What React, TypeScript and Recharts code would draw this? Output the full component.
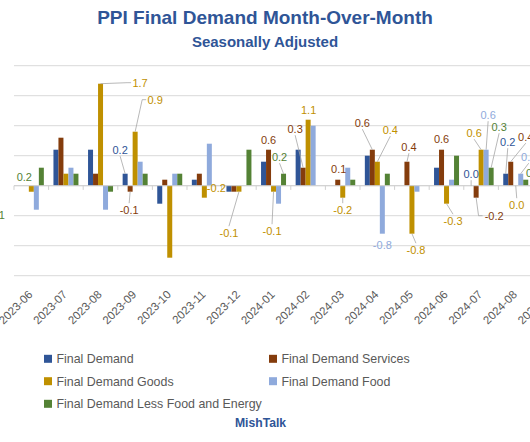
import React from "react";
import { BarChart, Bar, XAxis, YAxis, CartesianGrid, LabelList, ReferenceLine, ReferenceDot } from "recharts";

const months = [
  "2023-06", "2023-07", "2023-08", "2023-09", "2023-10", "2023-11", "2023-12",
  "2024-01", "2024-02", "2024-03", "2024-04", "2024-05", "2024-06", "2024-07", "2024-08", "2024-09",
];
const finalDemand = [0.0, 0.6, 0.6, 0.2, -0.3, 0.1, -0.1, 0.4, 0.6, 0.0, 0.5, 0.0, 0.3, 0.0, 0.2, null];
const services = [0.0, 0.8, 0.2, -0.1, 0.1, 0.2, -0.1, 0.6, 0.3, 0.1, 0.6, 0.4, 0.6, -0.2, 0.4, null];
const goods = [-0.1, 0.2, 1.7, 0.9, -1.2, -0.2, -0.1, -0.1, 1.1, -0.2, 0.4, -0.8, -0.3, 0.6, 0.0, null];
const food = [-0.4, 0.3, -0.4, 0.4, 0.2, 0.7, 0.0, -0.3, 1.0, 0.3, -0.8, -0.1, 0.1, 0.6, 0.2, null];
const core = [0.3, 0.2, -0.1, 0.2, 0.2, 0.0, 0.6, 0.2, 0.0, 0.1, 0.2, 0.0, 0.5, 0.3, 0.1, null];
const yTicks = [-1.5, -1, -0.5, 0, 0.5, 1, 1.5, 2];

const series = [
  { key: "fd", name: "Final Demand", color: "#2F5597", values: finalDemand },
  { key: "svc", name: "Final Demand Services", color: "#843C0C", values: services },
  { key: "goods", name: "Final Demand Goods", color: "#BF9000", values: goods },
  { key: "food", name: "Final Demand Food", color: "#8FAADC", values: food },
  { key: "core", name: "Final Demand Less Food and Energy", color: "#548235", values: core },
];

// which data labels are shown, with their offsets from the bar end (layout only)
const labelSpots: Record<string, Record<string, [number, number]>> = {
  fd: { "2023-09": [-5, -24], "2024-07": [0, -12], "2024-08": [2, -32] },
  svc: {
    "2023-09": [-1, 18], "2024-01": [0, -10], "2024-02": [-8, -39], "2024-03": [1, -11],
    "2024-04": [-10, -27], "2024-05": [2, -15], "2024-06": [0, -11], "2024-07": [18, 18], "2024-08": [15, -25],
  },
  goods: {
    "2023-08": [39.5, -1], "2023-09": [20, -32], "2023-11": [12, -10], "2023-12": [-10, 41],
    "2024-01": [-1.5, 39], "2024-02": [0.5, -10], "2024-03": [0, 12], "2024-04": [13, -32],
    "2024-05": [4, 16], "2024-06": [6.5, 17], "2024-07": [-7, -17], "2024-08": [1, 19],
  },
  food: { "2024-04": [0, 11], "2024-07": [2, -35], "2024-08": [8, -17] },
  core: { "2024-01": [-4, -17], "2024-07": [8, -41], "2024-08": [8, -7] },
};

// labels sitting at the left edge, belonging to columns cropped out of view
const strayLabels = [
  { month: "2023-06", value: 0.15, text: "0.2", dx: -7 },
  { month: "2023-06", value: -0.49, text: "-0.1", dx: -36 },
];

const FONT = "'Liberation Sans', Arial, sans-serif";
const data = months.map((m, i) => {
  const row: any = { month: m };
  series.forEach((s) => (row[s.key] = s.values[i]));
  return row;
});

const makeLabel = (key: string, color: string, values: (number | null)[]) => (props: any) => {
  const vb = props.viewBox || props;
  const x = Number(vb.x ?? props.x);
  const y = Number(vb.y ?? props.y);
  const w = Number(vb.width ?? props.width);
  const h = Number(vb.height ?? props.height);
  const month = String(props.value);
  const mi = months.indexOf(month);
  if (mi < 0) return null;
  const value = values[mi];
  if (value == null) return null;
  const spot = labelSpots[key][month];
  if (!spot) return null;
  const cx = x + w / 2;
  const ey = value > 0 ? Math.min(y, y + h) : value < 0 ? Math.max(y, y + h) : y;
  const [dx, dy] = spot;
  const lx = cx + dx;
  const ly = ey + dy;
  const text = Number(value).toFixed(1);
  const W = text.length * 5.3;
  const H = 11;
  let leader: string | null = null;
  if (Math.abs(dx) > 16) {
    const sgn = dx > 0 ? 1 : -1;
    const sx = lx - sgn * (W / 2 + 1);
    leader = `M${cx},${ey} L${sx - sgn * 4},${ly} L${sx},${ly}`;
  } else if (Math.abs(dy) - H / 2 > 6) {
    const sy = dy < 0 ? ly + H / 2 + 1 : ly - H / 2 - 1;
    leader = `M${cx},${ey} L${lx},${sy}`;
  }
  return (
    <g>
      {leader && <path d={leader} stroke="#A6A6A6" strokeWidth={0.8} fill="none" />}
      <text x={lx} y={ly + 4} textAnchor="middle" fontSize={11} fontFamily={FONT} fill={color}>
        {text}
      </text>
    </g>
  );
};

const MonthTick = (props: any) => {
  const { x, y, payload } = props;
  const ax = x + 2;
  const ay = y + 19.5;
  return (
    <text x={ax} y={ay} transform={`rotate(-45 ${ax} ${ay})`} textAnchor="end" fontSize={11.5} fontFamily={FONT} fill="#595959">
      {payload.value}
    </text>
  );
};

export default function App() {
  const legendRows = [
    [series[0], series[1]],
    [series[2], series[3]],
    [series[4]],
  ];
  const baselines = [363.3, 385.7, 408.3];
  const colX = [44, 269];
  return (
    <div style={{ position: "fixed", left: 0, top: 0, width: 530, height: 442, overflow: "hidden", background: "#fff" }}>
      <svg width={530} height={60} style={{ position: "absolute", left: 0, top: 0 }}>
        <text x={265} y={24} textAnchor="middle" fontSize={19} fontWeight="bold" fontFamily={FONT} fill="#2F5597">
          PPI Final Demand Month-Over-Month
        </text>
        <text x={265} y={46.7} textAnchor="middle" fontSize={15} fontWeight="bold" fontFamily={FONT} fill="#2F5597">
          Seasonally Adjusted
        </text>
      </svg>
      <div style={{ position: "absolute", left: 0, top: 0 }}>
        <BarChart
          width={567.6}
          height={442}
          data={data}
          margin={{ top: 65.7, right: 0, left: 14, bottom: 106.3 }}
          barCategoryGap="14%"
          barGap={0}
        >
          <CartesianGrid vertical={false} stroke="#D9D9D9" />
          <YAxis hide domain={[-1.5, 2]} ticks={yTicks} />
          <XAxis
            dataKey="month"
            interval={0}
            axisLine={false}
            tickLine={false}
            tickSize={0}
            tickMargin={0}
            height={60}
            tick={<MonthTick />}
          />
          <ReferenceLine y={0} stroke="#D0D0D0" />
          {months.map((m) => (
            <ReferenceLine
              key={"t" + m}
              segment={[{ x: m, y: 0 }, { x: m, y: -0.07 }]}
              position="start"
              stroke="#D0D0D0"
            />
          ))}
          {series.map((s) => (
            <Bar key={s.key} dataKey={s.key} name={s.name} fill={s.color} minPointSize={0.01} isAnimationActive={false}>
              <LabelList dataKey="month" content={makeLabel(s.key, s.color, s.values)} />
            </Bar>
          ))}
          {strayLabels.map((l, i) => (
            <ReferenceDot
              key={"s" + i}
              x={l.month}
              y={l.value}
              r={0}
              ifOverflow="visible"
              shape={(p: any) => (
                <text x={p.cx + l.dx} y={p.cy + 4} textAnchor="middle" fontSize={11} fontFamily={FONT} fill="#548235">
                  {l.text}
                </text>
              )}
            />
          ))}
        </BarChart>
      </div>
      <svg width={530} height={442} style={{ position: "absolute", left: 0, top: 0, pointerEvents: "none" }}>
        {legendRows.map((row, r) =>
          row.map((s, c) => (
            <g key={s.key}>
              <rect x={colX[c]} y={baselines[r] - 8.5} width={8} height={8} fill={s.color} />
              <text x={colX[c] + 12.5} y={baselines[r]} fontSize={12.4} fontFamily={FONT} fill="#595959">
                {s.name}
              </text>
            </g>
          ))
        )}
        <text x={260.5} y={427.3} textAnchor="middle" fontSize={12.2} fontWeight="bold" fontFamily={FONT} fill="#2F5597">
          MishTalk
        </text>
      </svg>
    </div>
  );
}
